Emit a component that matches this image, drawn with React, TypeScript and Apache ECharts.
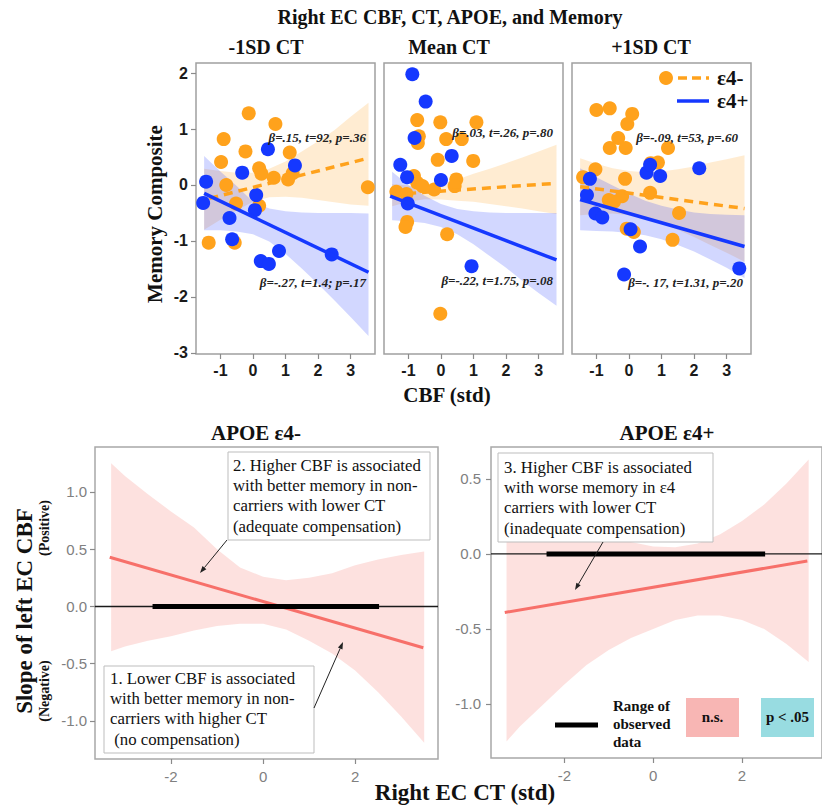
import React, { useEffect, useRef } from "react";
import * as echarts from "echarts";

// ---------------- Top row: Memory Composite vs CBF (std) ----------------
const cbfTicks = [-1, 0, 1, 2, 3];
const memoryTicks = [-3, -2, -1, 0, 1, 2];
const panelTitles = ["-1SD CT", "Mean CT", "+1SD CT"];

// scatter points [CBF, Memory]
const lowCtNonCarriers = [[-0.13, 1.28], [0.69, 1.09], [-0.9, 0.82], [-0.23, 0.6], [1.13, 0.58], [-0.98, 0.41], [0.19, 0.3], [0.26, 0.2], [0.64, 0.13], [1.22, 0.21], [1.08, 0.1], [-0.82, 0.0], [3.53, -0.04], [-0.52, -0.33], [0.19, -0.37], [-1.36, -1.03], [-0.56, -1.03]];
const lowCtCarriers = [[-1.44, 0.06], [-1.53, -0.32], [0.46, 0.64], [-0.33, 0.22], [1.29, 0.35], [0.1, -0.18], [0.06, -0.45], [-0.72, -0.59], [-0.64, -0.97], [0.24, -1.36], [0.49, -1.41], [0.8, -1.18], [2.42, -1.24]];
const meanCtNonCarriers = [[-0.73, 1.16], [-0.02, 1.12], [1.09, 1.12], [-0.68, 0.87], [-0.71, 0.75], [0.16, 0.82], [0.64, 0.82], [-0.1, 0.45], [0.99, 0.43], [-0.83, 0.16], [-0.73, 0.04], [-0.57, -0.02], [-0.21, -0.08], [0.47, 0.1], [0.42, -0.02], [-1.37, -0.12], [-1.06, -0.16], [-1.04, -0.66], [-1.09, -0.75], [0.19, -0.88], [-0.02, -2.3]];
const meanCtCarriers = [[-0.88, 1.98], [-0.47, 1.49], [-0.81, 0.84], [0.33, 0.52], [-1.25, 0.36], [-1.04, 0.14], [0.0, 0.09], [-1.02, -0.33], [0.94, -1.45]];
const highCtNonCarriers = [[-1.0, 1.34], [-0.59, 1.37], [0.1, 1.27], [-0.05, 1.09], [-0.33, 0.84], [-0.59, 0.66], [-0.1, 0.66], [1.2, 0.66], [-1.03, 0.28], [0.67, 0.39], [0.89, 0.4], [-1.41, 0.14], [-0.12, 0.11], [0.65, -0.14], [-0.21, -0.2], [-0.62, -0.27], [-0.46, -0.3], [1.54, -0.5], [-0.07, -0.78], [0.15, -0.84], [1.34, -0.98]];
const highCtCarriers = [[-1.2, 0.11], [-1.29, -0.18], [-1.03, -0.51], [-0.82, -0.58], [0.54, 0.22], [0.65, 0.36], [0.96, 0.16], [2.16, 0.3], [0.05, -0.79], [0.34, -1.1], [-0.15, -1.6], [3.39, -1.49]];

// fitted regression lines [start, end]
const lowCtNonCarrierFit = [[-1.34, -0.24], [3.55, 0.48]];
const lowCtCarrierFit = [[-1.5, -0.15], [3.55, -1.56]];
const meanCtNonCarrierFit = [[-1.5, -0.17], [3.55, 0.03]];
const meanCtCarrierFit = [[-1.56, -0.2], [3.55, -1.34]];
const highCtNonCarrierFit = [[-1.5, -0.03], [3.55, -0.42]];
const highCtCarrierFit = [[-1.5, -0.26], [3.55, -1.1]];

// confidence bands
const cbfBandX = [-1.5, -1, -0.5, 0, 0.5, 1, 1.5, 2, 2.5, 3, 3.55];
const lowCtNonCarrierLower = [-0.8, -0.62, -0.45, -0.3, -0.22, -0.21, -0.23, -0.27, -0.31, -0.35, -0.37];
const lowCtNonCarrierUpper = [0.29, 0.25, 0.22, 0.22, 0.29, 0.42, 0.6, 0.78, 0.98, 1.22, 1.47];
const lowCtCarrierLower = [-0.81, -0.81, -0.83, -0.88, -1.01, -1.23, -1.49, -1.77, -2.06, -2.36, -2.7];
const lowCtCarrierUpper = [0.52, 0.24, -0.02, -0.3, -0.42, -0.47, -0.49, -0.5, -0.5, -0.5, -0.51];
const meanCtNonCarrierLower = [-0.38, -0.3, -0.255, -0.26, -0.28, -0.3, -0.34, -0.38, -0.42, -0.47, -0.52];
const meanCtNonCarrierUpper = [0.02, -0.01, -0.015, 0.03, 0.1, 0.2, 0.29, 0.39, 0.49, 0.6, 0.72];
const meanCtCarrierLower = [-0.63, -0.65, -0.68, -0.75, -0.88, -1.06, -1.27, -1.48, -1.71, -1.93, -2.16];
const meanCtCarrierUpper = [0.235, 0.0, -0.19, -0.34, -0.43, -0.47, -0.49, -0.5, -0.5, -0.5, -0.5];
const highCtNonCarrierLower = [-0.54, -0.52, -0.51, -0.54, -0.6, -0.68, -0.8, -0.93, -1.07, -1.21, -1.37];
const highCtNonCarrierUpper = [0.48, 0.38, 0.3, 0.25, 0.23, 0.24, 0.28, 0.33, 0.4, 0.46, 0.53];
const highCtCarrierLower = [-0.81, -0.82, -0.83, -0.86, -0.9, -0.97, -1.07, -1.19, -1.33, -1.48, -1.66];
const highCtCarrierUpper = [0.3, 0.14, -0.01, -0.15, -0.28, -0.37, -0.44, -0.49, -0.52, -0.53, -0.54];

const statsNonCarrier = ["β=.15, t=92, p=.36", "β=.03, t=.26, p=.80", "β=-.09, t=53, p=.60"];
const statsCarrier = ["β=-.27, t=1.4; p=.17", "β=-.22, t=1.75, p=.08", "β=-. 17, t=1.31, p=.20"];

// ---------------- Bottom row: slope of CBF vs Right EC CT ----------------
const ctTicks = [-2, 0, 2];
const slopeTicksNonCarrier = [-1, -0.5, 0, 0.5, 1];
const slopeTicksCarrier = [-1, -0.5, 0, 0.5];
const ctBandX = [-3.3, -3, -2.5, -2, -1.5, -1, -0.5, 0, 0.5, 1, 1.5, 2, 2.5, 3, 3.5];
const nonCarrierSlopeUpper = [1.25, 1.14, 0.98, 0.83, 0.69, 0.5, 0.34, 0.26, 0.23, 0.25, 0.29, 0.36, 0.41, 0.45, 0.48];
const nonCarrierSlopeLower = [-0.39, -0.35, -0.3, -0.26, -0.21, -0.17, -0.15, -0.15, -0.2, -0.3, -0.41, -0.56, -0.75, -0.96, -1.19];
const carrierSlopeUpper = [0.47, 0.42, 0.34, 0.26, 0.19, 0.13, 0.08, 0.05, 0.045, 0.07, 0.13, 0.22, 0.33, 0.47, 0.63];
const carrierSlopeLower = [-1.25, -1.15, -1.01, -0.87, -0.74, -0.64, -0.56, -0.5, -0.44, -0.41, -0.41, -0.44, -0.5, -0.6, -0.72];
const nonCarrierSlopeLine = [[-3.33, 0.43], [3.48, -0.36]];
const carrierSlopeLine = [[-3.34, -0.39], [3.47, -0.047]];
const observedCtRange = [-2.4, 2.52];

const SERIF = '"Liberation Serif", "Times New Roman", serif';
const SANS = '"Liberation Sans", Arial, sans-serif';
const ORANGE = "#FFA21C";
const BLUE = "#1538FF";
const ORANGE_BAND = "rgba(255,160,30,0.2)";
const BLUE_BAND = "rgba(30,55,255,0.2)";
const RED = "#F7706A";
const RED_BAND = "rgba(248,118,109,0.22)";

function bandSeries(idx: number, xs: number[], lo: number[], hi: number[], fill: string) {
  return {
    type: "custom",
    xAxisIndex: idx,
    yAxisIndex: idx,
    silent: true,
    z: 1,
    data: xs.map((x, i) => [x, lo[i], hi[i]]),
    encode: { x: 0, y: [1, 2] },
    renderItem: (params: any, api: any) => {
      if (params.dataIndex !== 0) return null;
      const pts: number[][] = [];
      for (let i = 0; i < xs.length; i++) pts.push(api.coord([xs[i], hi[i]]));
      for (let i = xs.length - 1; i >= 0; i--) pts.push(api.coord([xs[i], lo[i]]));
      return { type: "polygon", shape: { points: pts }, style: { fill } };
    },
  };
}

function lineSeries(idx: number, data: number[][], color: string, width: number, dash: any, z = 4) {
  return {
    type: "line",
    xAxisIndex: idx,
    yAxisIndex: idx,
    data,
    symbol: "none",
    silent: true,
    z,
    lineStyle: { color, width, type: dash, cap: "butt" },
  };
}

function scatterSeries(idx: number, data: number[][], color: string) {
  return {
    type: "scatter",
    xAxisIndex: idx,
    yAxisIndex: idx,
    data,
    symbolSize: 14,
    silent: true,
    z: 3,
    itemStyle: { color, opacity: 1 },
  };
}

function text(t: string, x: number, y: number, size: number, opts: any = {}) {
  const align = opts.align || "center";
  return {
    type: "text",
    x,
    y,
    rotation: opts.rotation || 0,
    z: 100,
    style: {
      text: t,
      fill: opts.color || "#111",
      fontSize: size,
      fontWeight: opts.weight || "bold",
      fontStyle: opts.style || "normal",
      fontFamily: opts.family || SERIF,
      align,
      verticalAlign: "middle",
      textAlign: align,
      textVerticalAlign: "middle",
    },
  };
}

function arrow(x1: number, y1: number, x2: number, y2: number) {
  const dx = x2 - x1;
  const dy = y2 - y1;
  const len = Math.hypot(dx, dy);
  const ux = dx / len;
  const uy = dy / len;
  const L = 7;
  const W = 2.5;
  const bx = x2 - ux * L;
  const by = y2 - uy * L;
  return [
    { type: "line", z: 100, shape: { x1, y1, x2: bx, y2: by }, style: { stroke: "#222", lineWidth: 1 } },
    {
      type: "polygon",
      z: 100,
      shape: { points: [[x2, y2], [bx - uy * W, by + ux * W], [bx + uy * W, by - ux * W]] },
      style: { fill: "#222" },
    },
  ];
}

function noteBox(x: number, y: number, w: number, h: number, lines: string[], tx: number, ty: number) {
  const els: any[] = [
    { type: "rect", z: 99, shape: { x, y, width: w, height: h }, style: { fill: "#fff", stroke: "#bdbdbd", lineWidth: 1 } },
  ];
  lines.forEach((l, i) => {
    els.push(text(l, tx, ty + i * 20.4, 16.8, { align: "left", weight: "normal", color: "#111" }));
  });
  return els;
}

const hiddenLine = { show: false, onZero: false };

export default function App() {
  const ref = useRef<HTMLDivElement>(null);

  useEffect(() => {
    if (!ref.current) return;
    const chart = echarts.init(ref.current, undefined, { renderer: "svg" });

    const topLefts = [196, 384, 572];
    const grids: any[] = topLefts.map((left) => ({
      left,
      top: 63,
      width: 179,
      height: 291,
      show: true,
      borderColor: "#a0a0a0",
      borderWidth: 1.5,
      backgroundColor: "transparent",
    }));
    grids.push({ left: 95, top: 447, width: 343, height: 312, show: true, borderColor: "#a8a8a8", borderWidth: 1.5, backgroundColor: "transparent" });
    grids.push({ left: 491, top: 447, width: 341, height: 311, show: true, borderColor: "#a8a8a8", borderWidth: 1.5, backgroundColor: "transparent" });

    const xAxis: any[] = topLefts.map((_, i) => ({
      type: "value",
      gridIndex: i,
      position: "bottom",
      min: -1.75,
      max: 3.75,
      axisLine: hiddenLine,
      splitLine: { show: false },
      axisTick: { show: true, customValues: cbfTicks, length: 5, lineStyle: { color: "#8a8a8a", width: 1.2 } },
      axisLabel: { customValues: cbfTicks, fontSize: 16, fontWeight: "bold", fontFamily: SANS, color: "#1a1a1a", margin: 8 },
    }));
    [3, 4].forEach((g) =>
      xAxis.push({
        type: "value",
        gridIndex: g,
        position: "bottom",
        min: -3.65,
        max: 3.8,
        axisLine: hiddenLine,
        splitLine: { show: false },
        axisTick: { show: true, customValues: ctTicks, length: 5, lineStyle: { color: "#8a8a8a", width: 1.2 } },
        axisLabel: { customValues: ctTicks, fontSize: 15, fontFamily: SANS, color: "#808080", margin: 10 },
      })
    );

    const yAxis: any[] = topLefts.map((_, i) => ({
      type: "value",
      gridIndex: i,
      position: "left",
      min: -3.02,
      max: 2.18,
      axisLine: hiddenLine,
      splitLine: { show: false },
      axisTick: { show: i === 0, customValues: memoryTicks, length: 5, lineStyle: { color: "#8a8a8a", width: 1.2 } },
      axisLabel: { show: i === 0, customValues: memoryTicks, fontSize: 16, fontWeight: "bold", fontFamily: SANS, color: "#1a1a1a", margin: 8 },
    }));
    yAxis.push({
      type: "value",
      gridIndex: 3,
      position: "left",
      min: -1.332,
      max: 1.393,
      axisLine: hiddenLine,
      splitLine: { show: false },
      axisTick: { show: true, customValues: slopeTicksNonCarrier, length: 5, lineStyle: { color: "#8a8a8a", width: 1.2 } },
      axisLabel: { customValues: slopeTicksNonCarrier, fontSize: 15, fontFamily: SANS, color: "#808080", margin: 8, formatter: (v: number) => v.toFixed(1) },
    });
    yAxis.push({
      type: "value",
      gridIndex: 4,
      position: "left",
      min: -1.36,
      max: 0.713,
      axisLine: hiddenLine,
      splitLine: { show: false },
      axisTick: { show: true, customValues: slopeTicksCarrier, length: 5, lineStyle: { color: "#8a8a8a", width: 1.2 } },
      axisLabel: { customValues: slopeTicksCarrier, fontSize: 15, fontFamily: SANS, color: "#808080", margin: 10, formatter: (v: number) => v.toFixed(1) },
    });

    const dash = [9, 6];
    const series: any[] = [
      bandSeries(0, cbfBandX, lowCtNonCarrierLower, lowCtNonCarrierUpper, ORANGE_BAND),
      bandSeries(0, cbfBandX, lowCtCarrierLower, lowCtCarrierUpper, BLUE_BAND),
      bandSeries(1, cbfBandX, meanCtNonCarrierLower, meanCtNonCarrierUpper, ORANGE_BAND),
      bandSeries(1, cbfBandX, meanCtCarrierLower, meanCtCarrierUpper, BLUE_BAND),
      bandSeries(2, cbfBandX, highCtNonCarrierLower, highCtNonCarrierUpper, ORANGE_BAND),
      bandSeries(2, cbfBandX, highCtCarrierLower, highCtCarrierUpper, BLUE_BAND),
      scatterSeries(0, lowCtNonCarriers, ORANGE),
      scatterSeries(0, lowCtCarriers, BLUE),
      scatterSeries(1, meanCtNonCarriers, ORANGE),
      scatterSeries(1, meanCtCarriers, BLUE),
      scatterSeries(2, highCtNonCarriers, ORANGE),
      scatterSeries(2, highCtCarriers, BLUE),
      lineSeries(0, lowCtNonCarrierFit, ORANGE, 3.5, dash),
      lineSeries(0, lowCtCarrierFit, BLUE, 3.5, "solid"),
      lineSeries(1, meanCtNonCarrierFit, ORANGE, 3.5, dash),
      lineSeries(1, meanCtCarrierFit, BLUE, 3.5, "solid"),
      lineSeries(2, highCtNonCarrierFit, ORANGE, 3.5, dash),
      lineSeries(2, highCtCarrierFit, BLUE, 3.5, "solid"),
      // bottom panels
      bandSeries(3, ctBandX, nonCarrierSlopeLower, nonCarrierSlopeUpper, RED_BAND),
      bandSeries(4, ctBandX, carrierSlopeLower, carrierSlopeUpper, RED_BAND),
      lineSeries(3, nonCarrierSlopeLine, RED, 3, "solid", 3),
      lineSeries(4, carrierSlopeLine, RED, 3, "solid", 3),
      lineSeries(3, [[-3.65, 0], [3.8, 0]], "#1a1a1a", 1.3, "solid", 4),
      lineSeries(4, [[-3.65, 0], [3.8, 0]], "#1a1a1a", 1.3, "solid", 4),
      lineSeries(3, [[observedCtRange[0], 0], [observedCtRange[1], 0]], "#000", 5, "solid", 5),
      lineSeries(4, [[observedCtRange[0], 0], [observedCtRange[1], 0]], "#000", 5, "solid", 5),
    ];

    const graphic: any[] = [
      text("Right EC CBF, CT, APOE, and Memory", 450, 17, 20),
      text(panelTitles[0], 266, 47, 20),
      text(panelTitles[1], 449, 47, 20),
      text(panelTitles[2], 651, 47, 20),
      text("Memory Composite", 155, 214, 21, { rotation: Math.PI / 2 }),
      text("CBF (std)", 447, 395, 21),
      // stats
      text(statsNonCarrier[0], 366, 137, 13, { align: "right", style: "italic", color: "#222" }),
      text(statsCarrier[0], 366, 282, 13, { align: "right", style: "italic", color: "#222" }),
      text(statsNonCarrier[1], 553, 132, 13, { align: "right", style: "italic", color: "#222" }),
      text(statsCarrier[1], 553, 280, 13, { align: "right", style: "italic", color: "#222" }),
      text(statsNonCarrier[2], 738, 137, 13, { align: "right", style: "italic", color: "#222" }),
      text(statsCarrier[2], 743, 282, 13, { align: "right", style: "italic", color: "#222" }),
      // top legend
      { type: "circle", z: 100, shape: { cx: 666, cy: 78, r: 7 }, style: { fill: ORANGE } },
      { type: "line", z: 100, shape: { x1: 678, y1: 78, x2: 709, y2: 78 }, style: { stroke: ORANGE, lineWidth: 3.5, lineDash: [9, 5] } },
      text("ε4-", 717, 78, 21, { align: "left" }),
      { type: "line", z: 100, shape: { x1: 677, y1: 101, x2: 709, y2: 101 }, style: { stroke: BLUE, lineWidth: 3.5 } },
      text("ε4+", 717, 101, 21, { align: "left" }),
      // bottom titles
      text("APOE ε4-", 256, 433, 21),
      text("APOE ε4+", 667, 433, 21),
      text("Slope of left EC CBF", 24, 611, 23, { rotation: Math.PI / 2 }),
      text("(Positive)", 44, 528, 14, { rotation: Math.PI / 2 }),
      text("(Negative)", 44, 691, 14, { rotation: Math.PI / 2 }),
      text("Right EC CT (std)", 465, 792, 23),
      // notes
      ...noteBox(228, 452, 202, 88, ["2. Higher CBF is associated", "with better memory in non-", "carriers with lower CT", "(adequate compensation)"], 233, 465),
      ...noteBox(104, 666, 210, 87, ["1. Lower CBF is associated", "with better memory in non-", "carriers with higher CT", " (no compensation)"], 110, 678),
      ...noteBox(498, 453, 215, 89, ["3. Higher CBF is associated", "with worse memory in ε4", "carriers with lower CT", "(inadequate compensation)"], 504, 467),
      ...arrow(227, 540, 200, 573),
      ...arrow(314, 708, 343, 642),
      ...arrow(603, 542, 575, 590),
      // bottom legend
      { type: "line", z: 100, shape: { x1: 555, y1: 725, x2: 598, y2: 725 }, style: { stroke: "#000", lineWidth: 5 } },
      text("Range of", 613, 706, 15, { align: "left" }),
      text("observed", 613, 724, 15, { align: "left" }),
      text("data", 613, 742, 15, { align: "left" }),
      { type: "rect", z: 100, shape: { x: 686, y: 698, width: 53, height: 39 }, style: { fill: "#F8B6B4" } },
      text("n.s.", 712.5, 717, 15),
      { type: "rect", z: 100, shape: { x: 761, y: 698, width: 53, height: 39 }, style: { fill: "#98DCE1" } },
      text("p < .05", 787.5, 717, 15),
    ];

    chart.setOption({
      animation: false,
      backgroundColor: "#fff",
      grid: grids,
      xAxis,
      yAxis,
      series,
      graphic,
    });

    return () => chart.dispose();
  }, []);

  return <div ref={ref} style={{ position: "absolute", left: 0, top: 0, width: 822, height: 807 }} />;
}
